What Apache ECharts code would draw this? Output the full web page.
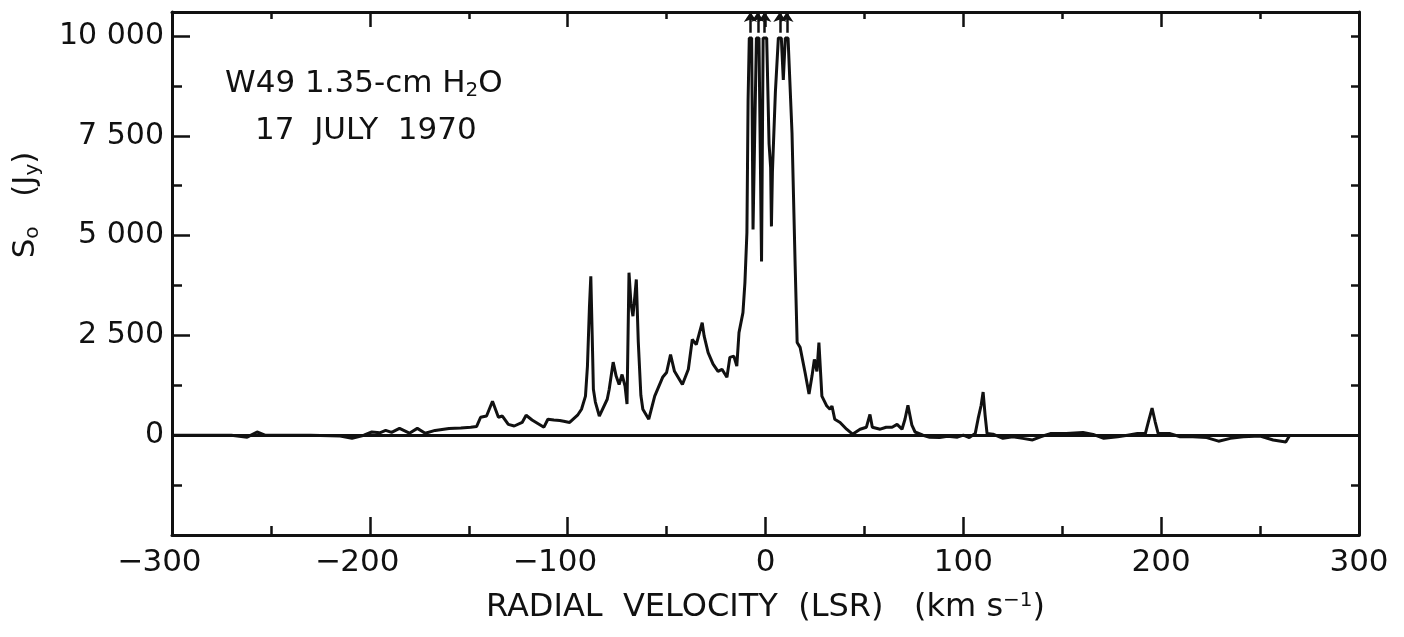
<!DOCTYPE html>
<html>
<head>
<meta charset="utf-8">
<title>W49 H2O spectrum</title>
<script src="https://cdn.jsdelivr.net/npm/echarts@6/dist/echarts.min.js"></script>
<style>
  html, body { margin: 0; padding: 0; background: #fff; }
  #chart { width: 1404px; height: 637px; }
</style>
</head>
<body>
<div id="chart"></div>
<script>
// radial velocity (km/s) and flux density (Jy)
var velocity = [
  -300, -270, -262, -257, -253, -230, -215, -209, -203, -199, -195, -192, -189, -185, -180, -176, -172, -167, -160,
  -154, -149, -146, -144, -141, -138, -135, -133, -130, -127, -123, -121, -118, -112, -110, -107, -104, -102, -99,
  -95, -93, -91, -90, -89, -88.3, -87.6, -87, -86, -84, -80, -79, -77, -75.5, -74, -72.5, -71, -70, -69, -68, -67,
  -66, -65.3, -64.3, -63, -62, -59, -56, -52, -50, -48, -46, -42, -39, -37, -35, -32, -31, -29, -26.5, -24, -22,
  -19.5, -18, -16, -14.5, -13.4, -11.4, -10.4, -9.4, -8.8, -8.2, -7.0, -6.3, -4.6, -3.3, -2.0, -1.2, 0.6, 1.8,
  2.6, 3.0, 3.5, 5, 6.5, 8, 9.0, 10, 11.4, 13.4, 15, 16, 17.5, 20, 22, 23.5, 24.7, 26, 27, 28.5, 31, 32.6, 33.6,
  35, 37.7, 41, 44, 47.8, 51, 52.8, 54, 58, 61, 64, 66.5, 69, 70.5, 72, 74, 75.6, 79.6, 83, 88, 92, 97, 100, 103,
  106, 107.5, 109, 110, 111, 112, 115, 120, 125, 130, 135, 139, 144, 152, 160.5, 165.6, 171, 178, 183, 188, 192,
  193.5, 195.4, 197, 198.5, 204.5, 209.6, 216, 223, 229, 235, 241.5, 250, 256.6, 263, 265
];
var flux = [
  0, 0, -50, 80, 0, 0, -20, -75, 0, 80, 60, 120, 70, 170, 50, 170, 50, 120, 170,
  180, 200, 220, 450, 480, 850, 450, 480, 270, 230, 320, 500, 380, 200, 400, 380, 370, 350, 320,
  500, 650, 980, 1730, 3200, 3980, 2500, 1150, 830, 480, 900, 1150, 1830, 1480, 1270, 1520, 1230, 780, 4070, 3300, 2980,
  3500, 3900, 2330, 1000, 650, 400, 980, 1450, 1570, 2020, 1600, 1270, 1650, 2400, 2270, 2820, 2480, 2070, 1780, 1600, 1650,
  1450, 1950, 1980, 1730, 2570, 3070, 3820, 5070, 8400, 9950, 9950, 5150, 9950, 9950, 4350, 9950, 9950, 7300,
  6700, 5230, 6600, 8600, 9950, 9950, 8900, 9950, 9950, 7570, 4230, 2320, 2200, 1570, 1030, 1480, 1900, 1600, 2320, 980, 730, 650, 730,
  400, 320, 150, 25, 150, 200, 520, 200, 150, 200, 200, 270, 150, 400, 750, 250, 80, 0, -50, -60, -25, -50, 0, -60,
  40, 420, 750, 1080, 500, 40, 25, -80, -40, -80, -120, -40, 40, 40, 70, 20, -80, -40, 0, 40, 40,
  330, 680, 330, 40, 40, -40, -40, -60, -150, -80, -40, -20, -120, -170, 0
];
// off-scale peaks marked with arrows
var offScale = [-7.6, -3.9, -0.4, 7.3, 10.8];

var yTickValues = [0, 2500, 5000, 7500, 10000];
var yTickLabels = ['0', '2 500', '5 000', '7 500', '10 000'];
var xTickValues = [-300, -200, -100, 0, 100, 200, 300];
var xTickLabels = ['−300', '−200', '−100', '0', '100', '200', '300'];

var FONT = 'DejaVu Sans';
var INK = '#111';

var spectrum = velocity.map(function (v, i) { return [v, flux[i]]; });

function xLabel(value) {
    var idx = xTickValues.indexOf(value);
    if (idx < 0) return '';
    var s = xTickLabels[idx];
    if (s.charAt(0) === '−') {
        // keep the digits centred on the tick, minus sign hangs to the left
        return '{m|−}{n|' + s.slice(1) + '}{p| }';
    }
    return '{n|' + s + '}';
}

function yLabel(value) {
    var idx = yTickValues.indexOf(value);
    return idx < 0 ? '' : yTickLabels[idx];
}

var option = {
    backgroundColor: '#fff',
    animation: false,
    grid: {left: 172, right: 45, top: 12, bottom: 102, containLabel: false},
    xAxis: [
        {
            type: 'value', position: 'bottom', min: -300, max: 300, interval: 100,
            axisLine: {show: true, onZero: false, lineStyle: {color: INK, width: 3}},
            axisTick: {inside: true, length: 18, lineStyle: {color: INK, width: 2.5}},
            minorTick: {show: true, splitNumber: 2, length: 9, lineStyle: {color: INK, width: 2.5}},
            splitLine: {show: false},
            axisLabel: {
                margin: 12, formatter: xLabel,
                rich: {
                    n: {fontFamily: FONT, fontSize: 31, color: INK},
                    m: {fontFamily: FONT, fontSize: 31, color: INK, width: 24},
                    p: {fontFamily: FONT, fontSize: 31, width: 24}
                }
            },
            name: 'RADIAL  VELOCITY  (LSR)   (km s{sup|−1})',
            nameLocation: 'middle', nameGap: 56,
            nameTextStyle: {
                fontFamily: FONT, fontSize: 32, color: INK,
                rich: {sup: {fontFamily: FONT, fontSize: 20, color: INK, padding: [0, 0, 14, 0]}}
            }
        },
        {
            type: 'value', position: 'top', min: -300, max: 300, interval: 100,
            axisLine: {show: true, onZero: false, lineStyle: {color: INK, width: 3}},
            axisTick: {inside: true, length: 15, lineStyle: {color: INK, width: 2.5}},
            minorTick: {show: true, splitNumber: 2, length: 7, lineStyle: {color: INK, width: 2.5}},
            splitLine: {show: false},
            axisLabel: {show: false}
        }
    ],
    yAxis: [
        {
            type: 'value', position: 'left', min: -2500, max: 10600, interval: 2500,
            axisLine: {show: true, onZero: false, lineStyle: {color: INK, width: 3}},
            axisTick: {inside: true, length: 18, lineStyle: {color: INK, width: 2.5}},
            splitLine: {show: false},
            axisLabel: {margin: 8, formatter: yLabel, fontFamily: FONT, fontSize: 30, color: INK}
        },
        {
            // short ticks between the labelled ones
            type: 'value', position: 'left', min: -2500, max: 10600, interval: 1250,
            axisLine: {show: false, onZero: false},
            axisTick: {inside: true, length: 10, lineStyle: {color: INK, width: 2.5}},
            splitLine: {show: false},
            axisLabel: {show: false}
        },
        {
            type: 'value', position: 'right', min: -2500, max: 10600, interval: 1250,
            axisLine: {show: true, onZero: false, lineStyle: {color: INK, width: 3}},
            axisTick: {inside: true, length: 8, lineStyle: {color: INK, width: 2.5}},
            splitLine: {show: false},
            axisLabel: {show: false}
        }
    ],
    graphic: [
        {
            type: 'text', left: 225, top: 68,
            style: {
                text: 'W49 1.35-cm H{sub|2}O',
                font: '31px "' + FONT + '"', fill: INK,
                rich: {sub: {fontFamily: FONT, fontSize: 20, fill: INK, padding: [14, 0, 0, 0]}}
            }
        },
        {
            type: 'text', left: 255, top: 115,
            style: {text: '17  JULY  1970', font: '31px "' + FONT + '"', fill: INK}
        },
        {
            type: 'text', x: 26, y: 205, rotation: Math.PI / 2,
            style: {
                text: 'S{sub|o}   (J{sub|y})',
                font: '31px "' + FONT + '"', fill: INK, align: 'center', verticalAlign: 'middle',
                rich: {sub: {fontFamily: FONT, fontSize: 20, fill: INK, padding: [14, 0, 0, 0]}}
            }
        }
    ],
    series: [
        {
            name: 'W49 H2O',
            type: 'line',
            xAxisIndex: 0, yAxisIndex: 0,
            data: spectrum,
            showSymbol: false,
            lineStyle: {color: INK, width: 3},
            markLine: {
                silent: true, symbol: ['none', 'none'],
                label: {show: false},
                lineStyle: {color: INK, width: 3, type: 'solid'},
                data: [{yAxis: 0}]
            }
        },
        {
            name: 'off scale',
            type: 'lines',
            coordinateSystem: 'cartesian2d',
            xAxisIndex: 0, yAxisIndex: 0,
            symbol: ['none', 'arrow'],
            symbolSize: 10,
            lineStyle: {color: INK, width: 2.5, opacity: 1},
            data: offScale.map(function (v) {
                return {coords: [[v, 10080], [v, 10600]]};
            })
        }
    ]
};

var chart = echarts.init(document.getElementById('chart'));
chart.setOption(option);
</script>
</body>
</html>
